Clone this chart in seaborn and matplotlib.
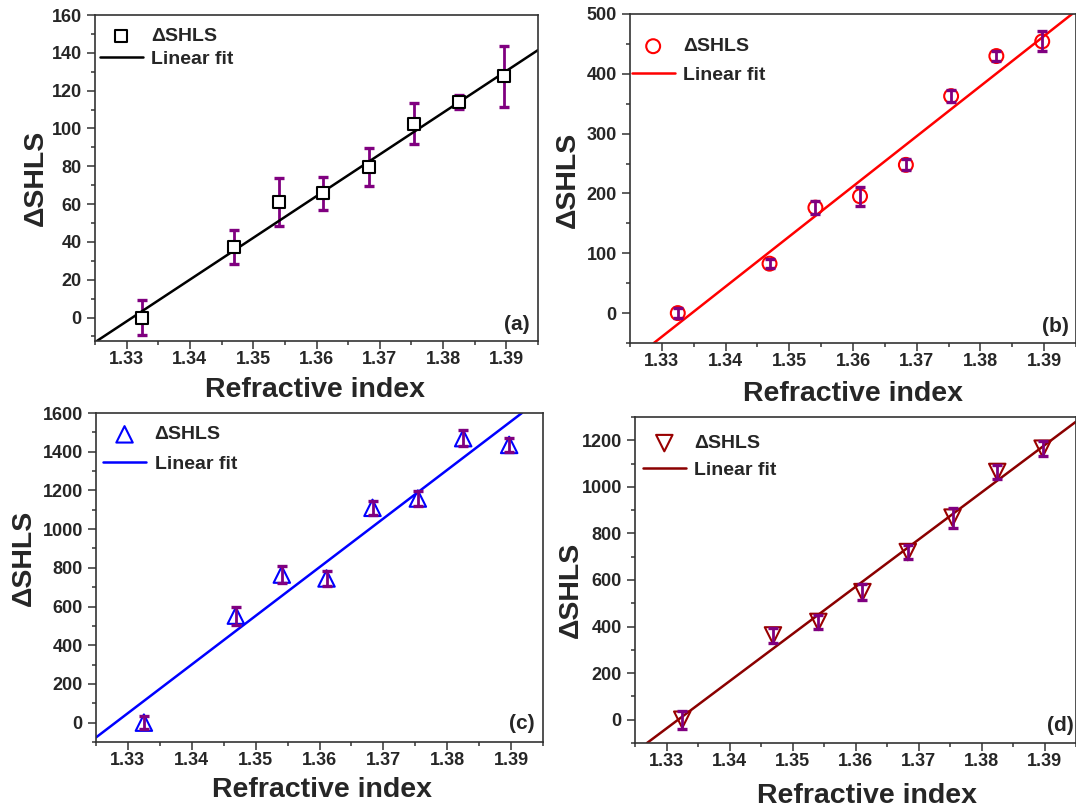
import numpy as np
import pandas as pd
import seaborn as sns
import matplotlib
matplotlib.use("Agg")
import matplotlib.pyplot as plt
from matplotlib.ticker import MultipleLocator

# Refractive index of the solutions
refractive_index = [1.3325, 1.3469, 1.3541, 1.3611, 1.3683, 1.3754, 1.3825, 1.3897]

# ΔSHLS response and its uncertainty for each sample set
shls_a = [0.0, 37.1, 61.2, 65.8, 79.6, 102.5, 114.0, 127.6]
err_a = [9.2, 9.0, 12.6, 8.7, 10.2, 10.9, 3.6, 16.2]

shls_b = [0.0, 82.6, 176.3, 195.3, 247.8, 362.7, 429.7, 454.2]
err_b = [8.0, 8.0, 11.0, 15.6, 9.0, 10.0, 8.0, 16.7]

shls_c = [0.0, 553.0, 765.0, 745.0, 1110.0, 1158.0, 1470.0, 1435.0]
err_c = [35.0, 46.0, 46.0, 39.0, 36.0, 39.0, 40.0, 37.0]

shls_d = [0.0, 362.0, 420.0, 548.0, 720.0, 868.0, 1064.0, 1164.0]
err_d = [38.0, 32.0, 30.0, 34.0, 30.0, 43.0, 31.0, 33.0]

# Weighted linear fits: value at n = 1.33 and slope
fit_ref_n = 1.33
fit_a = (-2.0, 2207.0)
fit_b = (-39.5, 8380.0)
fit_c = (49.2, 25135.0)
fit_d = (-37.4, 20268.0)

panel_tags = ["(a)", "(b)", "(c)", "(d)"]
y_limits = [(-12.4, 160), (-50, 500), (-100, 1600), (-100, 1300)]
y_major = [20, 100, 200, 200]
y_minor = [10, 50, 100, 100]
x_limits = (1.325, 1.395)

sns.set_theme(style="ticks")
plt.rcParams["font.family"] = ["Liberation Sans", "DejaVu Sans"]
plt.rcParams["font.weight"] = "bold"

W, H = 1076, 809
fig = plt.figure(figsize=(W / 100, H / 100), dpi=100)


def box(left, right, top, bottom):
    return [left / W, 1 - bottom / H, (right - left) / W, (bottom - top) / H]


axes = [
    fig.add_axes(box(95, 538, 15, 341)),
    fig.add_axes(box(630, 1076, 14, 343)),
    fig.add_axes(box(96, 543, 413, 742)),
    fig.add_axes(box(635, 1076, 417, 743)),
]

series = [
    dict(y=shls_a, e=err_a, fit=fit_a, marker="s", mcol="black", fill="white",
         lcol="black", size=72, over=True),
    dict(y=shls_b, e=err_b, fit=fit_b, marker="o", mcol="#ff0000", fill="none",
         lcol="#ff0000", size=100, over=False),
    dict(y=shls_c, e=err_c, fit=fit_c, marker="^", mcol="#0000ff", fill="none",
         lcol="#0000ff", size=140, over=False),
    dict(y=shls_d, e=err_d, fit=fit_d, marker="v", mcol="#990000", fill="none",
         lcol="#8b0000", size=140, over=False),
]

bar_color = "#800080"
spine_color = "#333333"

# per-panel placement of labels, legends and tags (axes fractions)
ylabel_pos = [(-0.103, 0.50), (-0.111, 0.495), (-0.132, 0.56), (-0.116, 0.47)]
xlabel_pos = [(0.497, -0.110), (0.50, -0.115), (0.505, -0.106), (0.525, -0.122)]
legend_anchor = [(0.011, 0.963), (0.004, 0.928), (0.016, 0.961), (0.018, 0.946)]
legend_spacing = [0.30, 0.58, 0.63, 0.48]
tag_pos = [(0.98, 0.052), (0.984, 0.05), (0.982, 0.056), (0.995, 0.053)]

for i, (ax, s) in enumerate(zip(axes, series)):
    df = pd.DataFrame({"n": refractive_index, "shls": s["y"]})
    bar_z = 2 if s["over"] else 4
    ax.errorbar(df["n"], df["shls"], yerr=s["e"], fmt="none", ecolor=bar_color,
                elinewidth=2, capsize=3.5, capthick=2.4, zorder=bar_z)
    sns.scatterplot(data=df, x="n", y="shls", ax=ax, marker=s["marker"], s=s["size"],
                    facecolor=s["fill"], edgecolor=s["mcol"], linewidth=1.5,
                    label="\u0394SHLS", zorder=3, legend=False)
    y0, slope = s["fit"]
    ax.axline((fit_ref_n, y0), slope=slope, color=s["lcol"], lw=1.8,
              label="Linear fit", zorder=2.5)

    ax.set_xlim(*x_limits)
    ax.set_ylim(*y_limits[i])
    ax.xaxis.set_major_locator(MultipleLocator(0.01))
    ax.xaxis.set_minor_locator(MultipleLocator(0.005))
    ax.yaxis.set_major_locator(MultipleLocator(y_major[i]))
    ax.yaxis.set_minor_locator(MultipleLocator(y_minor[i]))
    ax.xaxis.set_major_formatter(plt.FuncFormatter(lambda v, p: f"{v:.2f}"))
    ax.tick_params(which="major", direction="out", length=5.5, width=1.1,
                   color=spine_color, labelsize=13)
    ax.tick_params(axis="x", which="major", pad=2)
    ax.tick_params(axis="y", which="major", pad=4)
    ax.tick_params(which="minor", direction="out", length=3, width=1.1,
                   color=spine_color)
    ax.tick_params(top=False, right=False, which="both")
    for lab in ax.get_xticklabels() + ax.get_yticklabels():
        lab.set_fontweight("bold")
    for sp in ax.spines.values():
        sp.set_visible(True)
        sp.set_color(spine_color)
        sp.set_linewidth(1.2)

    ax.set_xlabel("Refractive index", fontsize=20.5, fontweight="bold")
    ax.set_ylabel("\u0394SHLS", fontsize=20.5, fontweight="bold")
    ax.yaxis.set_label_coords(*ylabel_pos[i])
    ax.xaxis.set_label_coords(*xlabel_pos[i])

    ax.legend(loc="upper left", bbox_to_anchor=legend_anchor[i], frameon=False,
              prop=dict(size=14, weight="bold"), handlelength=2.2,
              handletextpad=0.45, labelspacing=legend_spacing[i],
              borderaxespad=0.0, borderpad=0.0, scatterpoints=1)

    ax.text(tag_pos[i][0], tag_pos[i][1], panel_tags[i], transform=ax.transAxes,
            ha="right", va="center", fontsize=15, fontweight="bold")

fig.savefig("out.png", dpi=100)
